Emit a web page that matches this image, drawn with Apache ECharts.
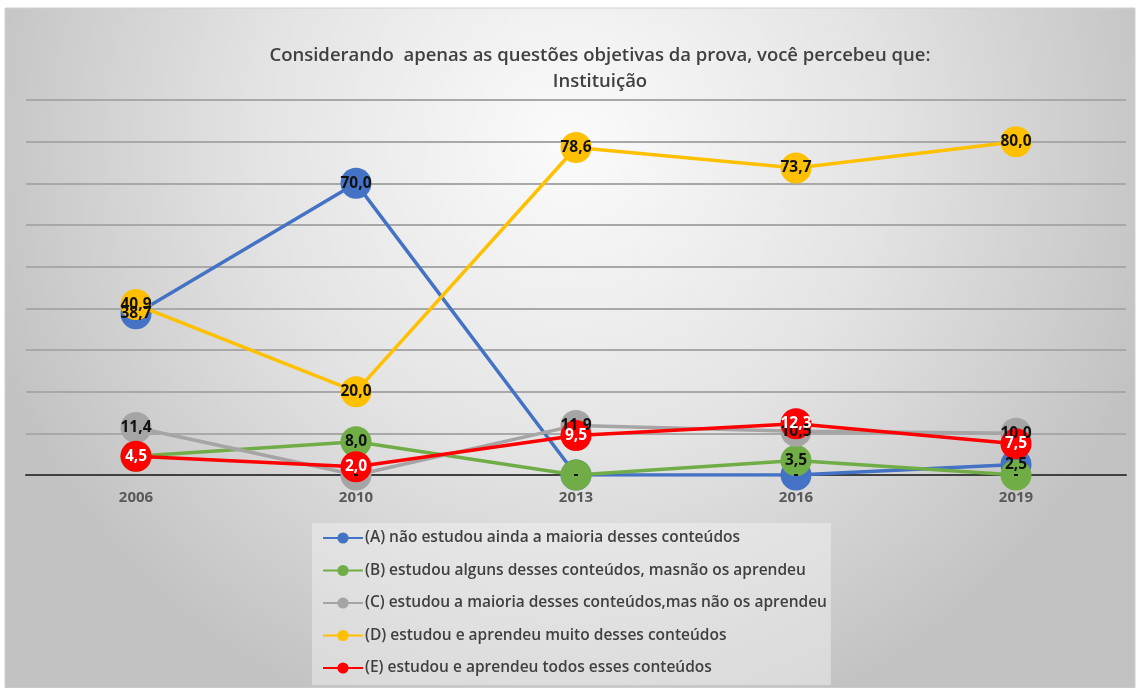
<!DOCTYPE html>
<html>
<head>
<meta charset="utf-8">
<script src="https://cdn.jsdelivr.net/npm/echarts@6/dist/echarts.min.js"></script>
<style>
html,body{margin:0;padding:0;background:#fff;}
#c{position:absolute;left:0;top:0;width:1139px;height:688px;}
</style>
</head>
<body>
<div id="c"></div>
<script>
const categories = ['2006', '2010', '2013', '2016', '2019'];
const seriesNames = [
  '(A) não estudou ainda a maioria desses conteúdos',
  '(B) estudou alguns desses conteúdos, masnão os aprendeu',
  '(C) estudou a maioria desses conteúdos,mas não os aprendeu',
  '(D) estudou e aprendeu muito desses conteúdos',
  '(E) estudou e aprendeu todos esses conteúdos'
];
const valuesA = [38.7, 70.0, 0, 0, 2.5];
const valuesB = [4.5, 8.0, 0, 3.5, 0];
const valuesC = [11.4, 0, 11.9, 10.5, 10.0];
const valuesD = [40.9, 20.0, 78.6, 73.7, 80.0];
const valuesE = [4.5, 2.0, 9.5, 12.3, 7.5];
const colors = ['#4472C4', '#70AD47', '#A5A5A5', '#FFC000', '#FF0000'];
const labelColors = ['#111', '#111', '#111', '#111', '#fff'];
const allValues = [valuesA, valuesB, valuesC, valuesD, valuesE];

const FONT = '"Open Sans", "Liberation Sans", sans-serif';
const chart = echarts.init(document.getElementById('c'));
const fmt = p => p.value === 0 ? '-' : p.value.toFixed(1).replace('.', ',');

// marker/line series
const markerSeries = allValues.map((vals, i) => ({
  name: seriesNames[i], type: 'line', data: vals, z: 3 + i,
  symbol: 'circle', symbolSize: 31,
  lineStyle: { color: colors[i], width: 3.5 },
  itemStyle: { color: colors[i] },
  label: { show: false }
}));
// label-only series drawn above all markers (as in the original chart)
const labelSeries = allValues.map((vals, i) => ({
  name: seriesNames[i] + ' ', type: 'line', data: vals, z: 20 + i,
  symbol: 'circle', symbolSize: 2, silent: true, showSymbol: true,
  lineStyle: { color: 'rgba(0,0,0,0)', width: 0 },
  itemStyle: { color: 'rgba(0,0,0,0)', borderWidth: 0 },
  label: {
    show: true, position: 'inside', formatter: fmt,
    fontFamily: FONT, fontSize: 15.5, fontWeight: 'bold', color: labelColors[i]
  }
}));

chart.setOption({
  animation: false,
  textStyle: { fontFamily: FONT },
  graphic: [{
    type: 'rect', z: -10, silent: true,
    shape: { x: 5, y: 8, width: 1130, height: 680 },
    style: {
      fill: new echarts.graphic.RadialGradient(0.5, 0.2, 0.9, [
        { offset: 0, color: '#fbfbfb' },
        { offset: 0.5, color: '#e4e4e4' },
        { offset: 1, color: '#c2c2c2' }
      ]),
      stroke: '#d0d0d0', lineWidth: 1
    }
  }],
  title: {
    text: 'Considerando  apenas as questões objetivas da prova, você percebeu que:\nInstituição',
    left: 595, top: 38, textAlign: 'center',
    textStyle: { fontFamily: FONT, fontSize: 18.5, fontWeight: 600, color: '#404040', lineHeight: 26 }
  },
  legend: {
    orient: 'vertical', left: 312, top: 523,
    padding: [6, 4, 8, 10], itemGap: 14.5, itemWidth: 40, itemHeight: 14,
    backgroundColor: 'rgba(245,245,245,0.45)',
    textStyle: { fontFamily: FONT, fontSize: 15.5, fontWeight: 600, color: '#404040', padding: [0, 0, 0, -3], lineHeight: 18 },
    data: seriesNames
  },
  grid: { left: 26, right: 13, top: 100, bottom: 213 },
  xAxis: {
    type: 'category', data: categories, boundaryGap: true,
    axisLine: { lineStyle: { color: '#404040', width: 2 } },
    axisTick: { show: false },
    axisLabel: { fontFamily: FONT, fontSize: 15, fontWeight: 'bold', color: '#595959', margin: 15 },
    z: 1
  },
  yAxis: {
    type: 'value', min: 0, max: 90, interval: 10,
    axisLabel: { show: false }, axisLine: { show: false }, axisTick: { show: false },
    splitLine: { lineStyle: { color: '#a8a8a8', width: 2 } }
  },
  series: markerSeries.concat(labelSeries)
});
</script>
</body>
</html>
